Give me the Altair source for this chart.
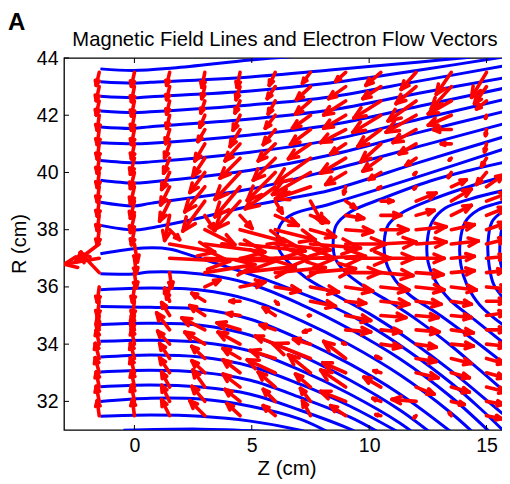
import numpy as np
import pandas as pd
import altair as alt

# ---------------- field lines (Z cm, R cm) ----------------
A1 = [(-1.45, 43.62), (-0.04, 43.56), (1.66, 43.65), (4.94, 43.93), (7.06, 44.07)]
A2 = [(-1.45, 43.17), (-0.04, 43.12), (0.68, 43.15), (4.94, 43.34), (8.34, 43.58), (12.17, 43.86), (14.3, 44.03)]
A3 = [(-1.45, 42.66), (-0.04, 42.61), (0.68, 42.65), (4.94, 42.85), (8.34, 43.13), (12.17, 43.58), (16.0, 44.07)]
A4 = [(-1.45, 42.15), (-0.04, 42.09), (0.68, 42.12), (4.94, 42.36), (8.34, 42.64), (12.17, 43.2), (16.0, 43.76)]
A5 = [(-1.45, 41.59), (-0.04, 41.54), (0.68, 41.6), (4.94, 41.87), (8.34, 42.18), (12.17, 42.78), (16.0, 43.34)]
A6 = [(-1.45, 41.04), (-0.04, 41.0), (0.68, 41.02), (4.94, 41.31), (8.34, 41.66), (12.17, 42.32), (16.0, 42.99)]
A7 = [(-1.45, 40.42), (-0.04, 40.34), (0.68, 40.37), (4.94, 40.71), (8.34, 41.13), (12.17, 41.87), (16.0, 42.6)]
A8 = [(-1.45, 39.73), (-0.04, 39.63), (0.68, 39.67), (4.94, 40.08), (8.34, 40.61), (12.17, 41.41), (16.0, 42.18)]
A9 = [(-1.45, 38.96), (-0.04, 38.83), (0.68, 38.92), (4.94, 39.42), (8.34, 40.08), (12.17, 40.92), (16.0, 41.76)]
A10 = [(-1.45, 38.15), (-0.04, 37.99), (0.68, 38.06), (2.38, 38.34), (4.94, 38.83), (6.64, 39.1), (8.34, 39.38), (12.17, 40.36), (16.0, 41.31)]

C1 = [(16.0, 40.89), (12.17, 39.87), (8.34, 38.9), (6.77, 38.55), (6.26, 38.23), (6.09, 37.81), (6.17, 37.29), (6.55, 36.87), (7.28, 36.34), (8.34, 35.82), (10.04, 35.05), (11.74, 34.14), (13.45, 33.09), (15.15, 31.94), (16.43, 31.06)]
C2 = [(16.0, 40.4), (14.3, 40.08), (12.6, 39.7), (10.6, 39.1), (9.19, 38.62), (8.6, 38.16), (8.47, 37.64), (8.55, 37.01), (8.98, 36.52), (9.83, 35.99), (10.89, 35.47), (12.17, 34.77), (13.45, 33.97), (14.72, 33.09), (16.0, 32.18)]
C3 = [(16.0, 39.91), (14.3, 39.52), (12.6, 39.03), (11.32, 38.55), (10.81, 38.16), (10.64, 37.57), (10.72, 36.87), (11.11, 36.24), (11.74, 35.71), (13.02, 35.01), (14.3, 34.24), (16.0, 33.16)]
C4 = [(16.0, 39.42), (14.3, 39.07), (13.23, 38.75), (12.68, 38.27), (12.47, 37.57), (12.51, 36.87), (12.85, 36.17), (13.45, 35.54), (14.51, 34.84), (16.0, 33.86)]
C5 = [(16.0, 39.03), (15.36, 38.9), (14.64, 38.69), (14.09, 38.27), (13.87, 37.53), (13.91, 36.76), (14.17, 36.06), (14.72, 35.36), (16.0, 34.49)]
C6 = [(16.0, 38.75), (15.66, 38.62), (15.23, 38.27), (15.06, 37.53), (15.11, 36.76), (15.32, 36.06), (16.0, 35.36)]
C7 = [(16.0, 38.48), (15.7, 38.16), (15.57, 37.46), (15.62, 36.76), (16.0, 36.06)]

B1 = [(-1.45, 37.16), (0.38, 37.36), (1.53, 37.32), (2.38, 37.11), (4.09, 36.66), (5.66, 36.24), (6.77, 35.89), (8.34, 35.36), (10.04, 34.63), (11.74, 33.72), (13.45, 32.67), (14.72, 31.76), (15.79, 30.92)]
B2 = [(-1.45, 36.46), (-0.04, 36.45), (0.68, 36.52), (2.81, 36.45), (4.94, 36.1), (7.06, 35.4), (9.19, 34.52), (11.32, 33.48), (13.45, 32.18), (15.15, 30.92)]
B3 = [(-1.45, 35.9), (0.68, 35.96), (2.81, 35.89), (4.94, 35.54), (7.06, 34.84), (9.19, 33.97), (11.32, 32.92), (13.45, 31.62), (14.51, 30.85)]
B4 = [(-1.45, 35.32), (0.68, 35.29), (2.81, 35.22), (4.94, 34.87), (7.06, 34.17), (9.19, 33.3), (11.32, 32.25), (13.45, 30.96)]
B5 = [(-1.45, 34.69), (0.68, 34.73), (2.81, 34.66), (4.94, 34.31), (7.06, 33.62), (9.19, 32.74), (11.32, 31.69), (12.81, 30.78)]
B6 = [(-1.45, 34.1), (0.68, 34.14), (2.81, 34.07), (4.94, 33.76), (7.06, 33.09), (9.19, 32.25), (11.32, 31.24), (11.96, 30.85)]
B7 = [(-1.45, 33.55), (0.68, 33.62), (2.81, 33.55), (4.94, 33.23), (7.06, 32.6), (9.19, 31.83), (11.32, 30.89)]
B8 = [(-1.45, 33.03), (0.68, 33.09), (2.81, 33.02), (4.94, 32.74), (7.06, 32.14), (9.19, 31.45), (10.47, 30.89)]
B9 = [(-1.45, 32.51), (0.68, 32.57), (2.81, 32.5), (4.94, 32.25), (7.06, 31.69), (9.19, 31.03), (9.62, 30.85)]
B10 = [(-1.45, 32.0), (0.68, 32.11), (2.81, 32.08), (4.94, 31.83), (7.06, 31.38), (8.34, 30.89)]
B11 = [(-1.45, 31.48), (0.68, 31.52), (2.81, 31.48), (4.94, 31.31), (7.06, 30.99), (7.49, 30.89)]
B12 = [(-0.47, 30.99), (2.81, 31.03), (5.36, 30.96)]

FIELD_LINES = {
    "A1": A1, "A2": A2, "A3": A3, "A4": A4, "A5": A5, "A6": A6, "A7": A7,
    "A8": A8, "A9": A9, "A10": A10,
    "C1": C1, "C2": C2, "C3": C3, "C4": C4, "C5": C5, "C6": C6, "C7": C7,
    "B1": B1, "B2": B2, "B3": B3, "B4": B4, "B5": B5, "B6": B6, "B7": B7,
    "B8": B8, "B9": B9, "B10": B10, "B11": B11, "B12": B12,
}

# ---------------- electron flow vectors on the probe grid ----------------
Z_COLS = [-1.5, 0.0, 1.5, 3.0, 4.5, 6.0, 7.5, 9.0, 10.5, 12.0, 13.5, 15.0]
R_ROWS = [43.5, 43.0, 42.5, 42.0, 41.5, 41.0, 40.5, 40.0, 39.5, 39.0, 38.5, 38.0,
          37.5, 37.0, 36.5, 36.0, 35.5, 35.0, 34.5, 34.0, 33.5, 33.0, 32.5, 32.0, 31.5]

# flow components (Z and R), one list per row of R_ROWS
VZ = [
    [-3, -3, -3, -3, -3, -6, -8, -10, -15, -15, -15, -15],
    [-3, -3, -3, -3, -4, -8, -14, -17, -18, -20, -20, -12],
    [-3, -3, -3, -4, -5, -7, -15, -22, -27, -28, -23, -10],
    [-2, -3, -3, -5, -7, -10, -18, -22, -28, -30, -23, -1],
    [-2, -3, -4, -7, -10, -12, -20, -25, -23, -23, -18, -1],
    [-2, -3, -5, -10, -15, -17, -22, -15, -20, -17, -10, -2],
    [-2, -4, -6, -12, -20, -22, -35, -25, -18, -10, -2, -5],
    [-2, -4, -8, -15, -25, -28, -38, -20, -12, -2, -3, -10],
    [-2, -4, -9, -20, -25, -30, -35, -2, -3, -2, 15, 17],
    [-2, -4, -10, -22, -25, 7, 12, 10, 12, 20, 20, 22],
    [-2, -4, -5, 10, 12, 23, 18, 18, 20, 18, 20, 20],
    [-2, -3, 10, 30, 45, 40, 25, 27, 27, 30, 23, 20],
    [-24, 3, 45, 60, 65, 55, 50, 40, 35, 30, 27, 20],
    [-35, 2, 60, 70, 70, 60, 55, 45, 33, 28, 23, 20],
    [-19, 2, 2, 50, 55, 50, 45, 35, 32, 27, 23, 18],
    [-2, -2, -3, 15, 25, 25, 28, 27, 28, 28, 25, 22],
    [-2, -2, -5, -13, -10, 3, 25, 20, 28, 25, 20, 20],
    [-2, -3, -8, -15, -13, -12, -2, 25, 25, 22, 20, 20],
    [-2, -3, -13, -23, -23, -15, -7, 25, 20, 23, 22, 20],
    [-3, -3, -12, -20, -22, -20, -17, -3, 20, 20, 22, 20],
    [-4, -4, -10, -13, -17, -25, -38, -22, -5, 20, 20, 18],
    [-4, -4, -10, -13, -17, -28, -22, -23, -7, 22, 18, 18],
    [-3, -3, -8, -12, -17, -17, -15, -25, -17, 18, 18, 20],
    [-3, -3, -8, -13, -15, -12, -10, -25, -8, -24, 13, 17],
    [-2, -2, -8, -15, -13, -12, -8, -15, -5, -2, -2, 15],
]
VR = [
    [-13, -14, -13, -15, -15, -13, -11, -9, -13, -17, -22, -25],
    [-14, -15, -13, -12, -13, -12, -13, -12, -12, -17, -22, -17],
    [-14, -15, -13, -12, -12, -13, -13, -14, -17, -20, -13, -8],
    [-15, -15, -13, -12, -15, -13, -13, -13, -17, -17, -10, -3],
    [-15, -15, -14, -12, -17, -15, -15, -13, -17, -13, 0, -6],
    [-15, -15, -14, -17, -17, -17, -15, -10, -18, -10, 0, -8],
    [-15, -16, -15, -18, -20, -22, -25, -15, -13, -7, -2, -8],
    [-15, -16, -17, -20, -27, -28, -22, -12, -7, -2, -5, -12],
    [-15, -17, -18, -25, -30, -22, -12, -7, -2, -2, 7, 12],
    [-15, -17, -20, -30, -28, -12, -22, -7, 0, 8, 12, 8],
    [-15, -17, -25, -15, -13, -10, -7, -3, 0, 5, 10, 8],
    [-15, -15, -10, -15, -12, -10, -7, -2, 0, 3, 5, 7],
    [-18, -18, -8, -8, -7, -6, -4, 0, 2, 2, 3, 5],
    [-6, -15, -3, -3, 0, 0, 2, 0, 0, 0, 2, 2],
    [20, -15, -15, 8, 6, 5, 4, 0, -3, -2, 2, 2],
    [-15, -15, -12, 7, 5, -4, -5, -4, -3, -3, -3, -2],
    [-15, -15, 13, 8, 0, -3, -5, -2, -3, -3, -3, 0],
    [-14, -14, 13, 10, 2, 8, 0, -5, -2, -2, -2, 3],
    [12, 14, 17, 12, 7, 5, -2, -2, -2, -2, -3, 0],
    [14, 15, 13, 12, 12, 8, 5, 1, -3, -3, -2, -2],
    [15, 15, 15, 12, 10, 8, 15, 17, 2, -3, -5, -5],
    [15, 15, 15, 12, 13, 13, 18, 10, 2, -5, -5, -5],
    [15, 16, 15, 17, 13, 15, 13, 17, 10, -7, -5, -5],
    [15, 16, 16, 15, 12, 12, 13, 10, 3, 2, -3, -3],
    [15, 16, 16, 15, 12, 10, 15, 10, 1, -2, 3, -3],
]

X_TICKS = [0, 5, 10, 15]
Y_TICKS = [32, 34, 36, 38, 40, 42, 44]
TITLE = "Magnetic Field Lines and Electron Flow Vectors"
X_TITLE = "Z (cm)"
Y_TITLE = "R (cm)"
PANEL = "A"

# ---------------- build tables ----------------
W, H = 446, 372
ZMIN, ZMAX, RMIN, RMAX = -3, 16, 31, 44
QZ = (ZMAX - ZMIN) / W      # quiver scale, cm per flow unit (Z)
QR = (RMAX - RMIN) / H      # quiver scale, cm per flow unit (R)
ALPHA, BETA = 0.36, 0.42    # arrow head length / width relative to vector

line_rows = []
for name, pts in FIELD_LINES.items():
    for k, (z, r) in enumerate(pts):
        line_rows.append({"line": name, "k": k, "z": z, "r": r})
lines_df = pd.DataFrame(line_rows)

seg_rows = []
for i, r0 in enumerate(R_ROWS):
    for j, z0 in enumerate(Z_COLS):
        u = float(VZ[i][j])
        v = float(VR[i][j])
        tz, tr = z0 + u * QZ, r0 + v * QR
        seg_rows.append({"z": tz, "r": tr, "z2": z0, "r2": r0})
        for s in (1, -1):
            hu = u - ALPHA * (u + s * BETA * v)
            hv = v - ALPHA * (v - s * BETA * u)
            seg_rows.append({"z": tz, "r": tr, "z2": z0 + hu * QZ, "r2": r0 + hv * QR})
seg_df = pd.DataFrame(seg_rows)

FONT = "Liberation Sans"
xs = alt.Scale(domain=[ZMIN, ZMAX], nice=False, zero=False)
ys = alt.Scale(domain=[RMIN, RMAX], nice=False, zero=False)
x_axis = alt.Axis(values=X_TICKS, title=None, format="d")
y_axis = alt.Axis(values=Y_TICKS, title=None, format="d")

field = alt.Chart(lines_df).mark_line(
    clip=True, color="#0000ff", strokeWidth=3, interpolate="catmull-rom"
).encode(
    x=alt.X("z:Q", scale=xs, axis=x_axis),
    y=alt.Y("r:Q", scale=ys, axis=y_axis),
    detail="line:N",
    order="k:Q",
)

arrows = alt.Chart(seg_df).mark_rule(
    clip=True, color="#ff0000", strokeWidth=3.6, strokeCap="round"
).encode(
    x=alt.X("z:Q", scale=xs, axis=x_axis),
    y=alt.Y("r:Q", scale=ys, axis=y_axis),
    x2="z2:Q",
    y2="r2:Q",
)

xt = pd.DataFrame({"z": X_TICKS})
yt = pd.DataFrame({"r": Y_TICKS})
TL = 5
tick_b = alt.Chart(xt).mark_rule(color="black", strokeWidth=1).encode(
    x=alt.X("z:Q", scale=xs, axis=x_axis), y=alt.value(H), y2=alt.value(H - TL))
tick_t = alt.Chart(xt).mark_rule(color="black", strokeWidth=1).encode(
    x=alt.X("z:Q", scale=xs, axis=x_axis), y=alt.value(0), y2=alt.value(TL))
tick_l = alt.Chart(yt).mark_rule(color="black", strokeWidth=1).encode(
    y=alt.Y("r:Q", scale=ys, axis=y_axis), x=alt.value(0), x2=alt.value(TL))

texts = pd.DataFrame({"t": [PANEL, TITLE, X_TITLE, Y_TITLE]})


def text_layer(label, **kw):
    return alt.Chart(texts).transform_filter(alt.datum.t == label).mark_text(
        font=FONT, color="black", **kw
    )


panel = text_layer(PANEL, fontSize=24, fontWeight="bold", align="left", baseline="alphabetic").encode(
    text="t:N", x=alt.value(-56), y=alt.value(-28))
title = text_layer(TITLE, fontSize=20.2, align="center", baseline="alphabetic").encode(
    text="t:N", x=alt.value(W / 2 - 2), y=alt.value(-12))
xtitle = text_layer(X_TITLE, fontSize=20.4, align="center", baseline="alphabetic").encode(
    text="t:N", x=alt.value(W / 2), y=alt.value(H + 45))
ytitle = text_layer(Y_TITLE, fontSize=20, align="center", baseline="alphabetic", angle=270).encode(
    text="t:N", x=alt.value(-38), y=alt.value(H / 2))

chart = alt.layer(field, arrows, tick_b, tick_t, tick_l, panel, title, xtitle, ytitle).properties(
    width=W,
    height=H,
    autosize="none",
    padding={"left": 56, "top": 50, "right": -8, "bottom": 52},
).configure_view(
    stroke="black", strokeWidth=1.3
).configure_axis(
    labelFont=FONT, labelFontSize=19.5, labelColor="black",
    grid=False, ticks=False, tickSize=0, domain=False, labelPadding=6,
)

chart.save("out.html", embed_options={"renderer": "svg", "actions": False})
